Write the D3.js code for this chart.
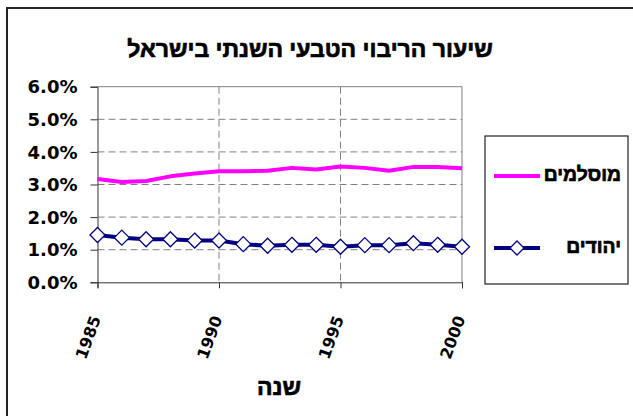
<!DOCTYPE html>
<html><head><meta charset="utf-8">
<script src="https://cdn.jsdelivr.net/npm/d3@7"></script>
<style>
body{margin:0;background:#fff;}
text{font-weight:bold;fill:#000;}
</style></head>
<body><svg id="c" width="633" height="416"></svg>
<script>
const years = [1985,1986,1987,1988,1989,1990,1991,1992,1993,1994,1995,1996,1997,1998,1999,2000];
const muslims = [3.17,3.08,3.11,3.25,3.34,3.41,3.41,3.42,3.51,3.46,3.55,3.51,3.42,3.54,3.54,3.50];
const jews = [1.45,1.37,1.32,1.32,1.28,1.28,1.17,1.12,1.15,1.15,1.09,1.14,1.14,1.20,1.15,1.09];
const yTicks = [0,1,2,3,4,5,6];
const xTicks = [1985,1990,1995,2000];
const title = "שיעור הריבוי הטבעי השנתי בישראל";
const xTitle = "שנה";
const seriesNames = ["מוסלמים","יהודים"];

const NUMF = "DejaVu Sans, Liberation Sans, Arial, sans-serif";
const HEBF = "Liberation Sans, Arimo, Arial, sans-serif";
const svg = d3.select("#c");
// outer chart border
svg.append("rect").attr("x",7).attr("y",8).attr("width",640).attr("height",420)
  .attr("fill","#fff").attr("stroke","#222").attr("stroke-width",2);

const L=97.5,R=462,T=86.7,B=282.3;
const x = d3.scaleLinear().domain([1985,2000]).range([L,R]);
const y = d3.scaleLinear().domain([0,6]).range([B,T]);

// grid
const g = svg.append("g");
g.selectAll(".hg").data(yTicks.filter(d=>d>0&&d<6)).join("line")
  .attr("x1",L).attr("x2",R).attr("y1",d=>y(d)).attr("y2",d=>y(d))
  .attr("stroke","#808080").attr("stroke-dasharray","7,4").attr("stroke-width",1);
g.selectAll(".vg").data([1990,1995]).join("line")
  .attr("x1",d=>x(d)).attr("x2",d=>x(d)).attr("y1",T).attr("y2",B)
  .attr("stroke","#808080").attr("stroke-dasharray","7,4").attr("stroke-width",1);
g.append("path").attr("d",`M${L},${T}H${R}V${B}`).attr("fill","none").attr("stroke","#808080").attr("stroke-width",1);

// axes
const yAxis = d3.axisLeft(y).tickValues(yTicks).tickSize(7).tickFormat(d=>d.toFixed(1)+"%");
const ya = svg.append("g").attr("transform",`translate(${L},0)`).call(yAxis);
ya.attr("font-family",NUMF).attr("font-size",17);
ya.select(".domain").attr("stroke","#333");
ya.selectAll(".tick line").attr("stroke","#333");
ya.selectAll("text").attr("x",-20).attr("dy","0.36em").attr("font-weight","bold").attr("fill","#000")
  .attr("textLength",50).attr("lengthAdjust","spacingAndGlyphs");

const xAxis = d3.axisBottom(x).tickValues(xTicks).tickSize(6).tickFormat(d3.format("d"));
const xa = svg.append("g").attr("transform",`translate(0,${B})`).call(xAxis);
xa.attr("font-family",NUMF).attr("font-size",16);
xa.select(".domain").attr("stroke","#333");
xa.selectAll(".tick line").attr("stroke","#333");
xa.selectAll("text").attr("font-weight","bold").attr("fill","#000")
  .attr("text-anchor","end").attr("dy",null).attr("y",0)
  .attr("transform","translate(3,36) rotate(-70)");

// lines
const line = d3.line().x((d,i)=>x(years[i])).y(d=>y(d));
svg.append("path").datum(muslims).attr("d",line).attr("fill","none").attr("stroke","#FF00FF").attr("stroke-width",4).attr("stroke-linejoin","round");
svg.append("path").datum(jews).attr("d",line).attr("fill","none").attr("stroke","#000080").attr("stroke-width",4).attr("stroke-linejoin","round");
const diamond = s=>`M0,${-s}L${s},0L0,${s}L${-s},0Z`;
svg.selectAll(".mk").data(jews).join("path")
  .attr("transform",(d,i)=>`translate(${x(years[i])},${y(d)})`)
  .attr("d",diamond(7.5)).attr("fill","#fff").attr("stroke","#000080").attr("stroke-width",1.3);

// titles (Hebrew, slightly emboldened)
const heb = sel => sel.attr("font-family",HEBF).attr("font-weight","bold").attr("stroke","#000").attr("stroke-width",0.7).attr("paint-order","stroke");
svg.append("text").attr("x",310).attr("y",57).attr("text-anchor","middle").attr("font-size",23)
  .call(heb).text(title);
svg.append("text").attr("x",279).attr("y",395).attr("text-anchor","middle").attr("font-size",23)
  .call(heb).text(xTitle);

// legend
svg.append("rect").attr("x",485).attr("y",136).attr("width",143).attr("height",148)
  .attr("fill","#fff").attr("stroke","#222").attr("stroke-width",1.2);
const ly = [176,248];
svg.append("line").attr("x1",494).attr("x2",540).attr("y1",ly[0]).attr("y2",ly[0]).attr("stroke","#FF00FF").attr("stroke-width",4);
svg.append("line").attr("x1",494).attr("x2",540).attr("y1",ly[1]).attr("y2",ly[1]).attr("stroke","#000080").attr("stroke-width",4);
svg.append("path").attr("transform",`translate(517,${ly[1]})`).attr("d",diamond(7)).attr("fill","#fff").attr("stroke","#000080").attr("stroke-width",1.3);
svg.selectAll(".lt").data(seriesNames).join("text")
  .attr("x",621).attr("y",(d,i)=>ly[i]+5).attr("text-anchor","end").attr("font-size",19.3)
  .call(heb).text(d=>d);
</script></body></html>
